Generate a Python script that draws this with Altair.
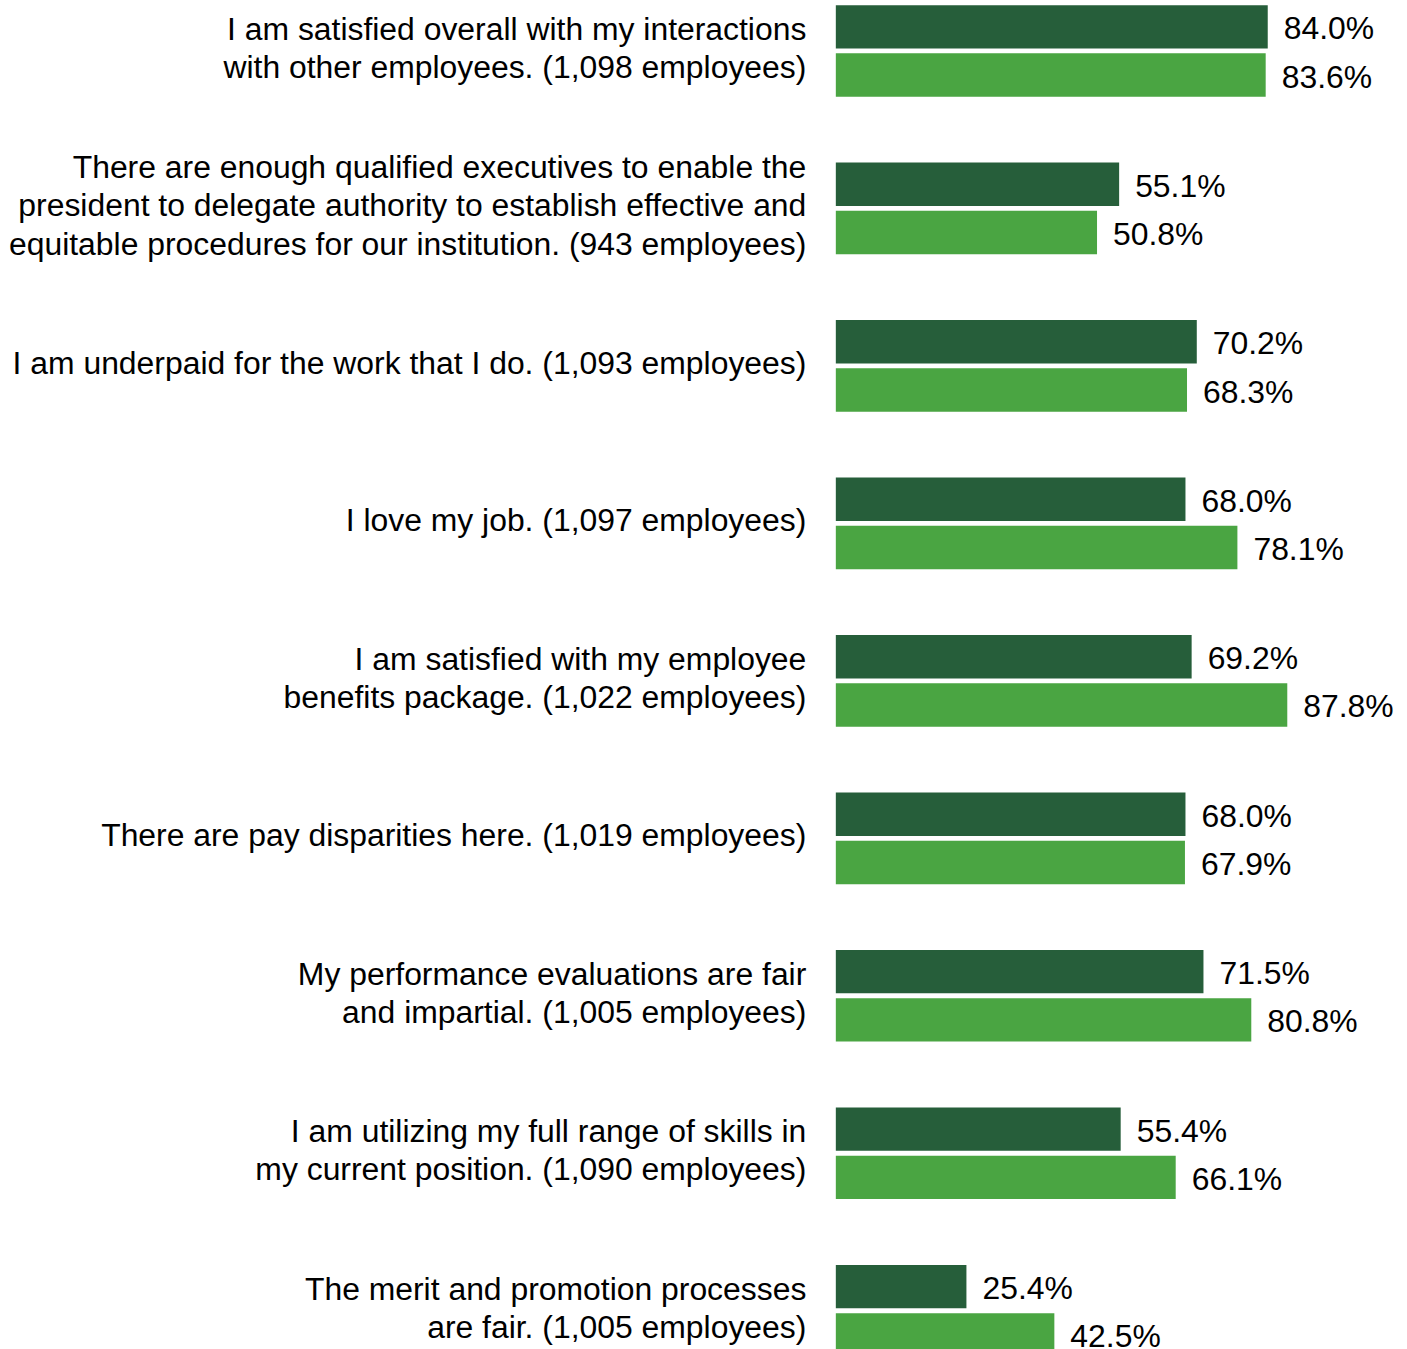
import altair as alt
import pandas as pd

statements = [
    "I am satisfied overall with my interactions|with other employees. (1,098 employees)",
    "There are enough qualified executives to enable the|president to delegate authority to establish effective and|equitable procedures for our institution. (943 employees)",
    "I am underpaid for the work that I do. (1,093 employees)",
    "I love my job. (1,097 employees)",
    "I am satisfied with my employee|benefits package. (1,022 employees)",
    "There are pay disparities here. (1,019 employees)",
    "My performance evaluations are fair|and impartial. (1,005 employees)",
    "I am utilizing my full range of skills in|my current position. (1,090 employees)",
    "The merit and promotion processes|are fair. (1,005 employees)",
]
series_names = ["Series 1", "Series 2"]
series1_values = [84.0, 55.1, 70.2, 68.0, 69.2, 68.0, 71.5, 55.4, 25.4]
series2_values = [83.6, 50.8, 68.3, 78.1, 87.8, 67.9, 80.8, 66.1, 42.5]
colors = ["#265E3A", "#4AA542"]

rows = []
for s, v1, v2 in zip(statements, series1_values, series2_values):
    rows.append({"statement": s, "series": series_names[0], "value": v1})
    rows.append({"statement": s, "series": series_names[1], "value": v2})
df = pd.DataFrame(rows)

FONT = "Liberation Sans, Arial, Helvetica, sans-serif"
FS = 31.9
LH = 38.3
BASE_OFF = -2

label_offset = {
    "condition": [
        {"test": "length(split(datum.label, '|')) == 3", "value": BASE_OFF - LH},
        {"test": "length(split(datum.label, '|')) == 2", "value": BASE_OFF - LH / 2},
    ],
    "value": BASE_OFF,
}

y_enc = alt.Y(
    "statement:N",
    sort=statements,
    scale=alt.Scale(paddingInner=0.418, paddingOuter=0),
    axis=alt.Axis(
        title=None,
        domain=False,
        ticks=False,
        labelPadding=30,
        labelFontSize=FS,
        labelFont=FONT,
        labelColor="#000000",
        labelLimit=2000,
        labelLineHeight=LH,
        labelOffset=label_offset,
        labelExpr="split(datum.label, '|')",
    ),
)
yoff_enc = alt.YOffset(
    "series:N", sort=series_names, scale=alt.Scale(paddingInner=0.1, paddingOuter=0)
)
x_enc = alt.X("value:Q", scale=alt.Scale(domain=[0, 100]), axis=None)

base = alt.Chart(df)

bars = base.mark_bar().encode(
    x=x_enc,
    y=y_enc,
    yOffset=yoff_enc,
    color=alt.Color(
        "series:N",
        scale=alt.Scale(domain=series_names, range=colors),
        legend=None,
    ),
)

labels = base.transform_calculate(
    lbl="format(datum.value, '.1f') + '%'"
).mark_text(
    align="left", baseline="middle", dx=16, dy=2.5, fontSize=FS, font=FONT, color="#000000"
).encode(
    x=x_enc,
    y=y_enc,
    yOffset=yoff_enc,
    text="lbl:N",
)

chart = (
    alt.layer(bars, labels)
    .properties(
        width=514.3,
        height=1351.7,
        autosize=alt.AutoSizeParams(type="none"),
        padding={"left": 836, "top": 5, "right": 57, "bottom": 0},
    )
    .configure_view(stroke=None)
)

chart.save("out.html", embed_options={"renderer": "svg", "actions": False})
